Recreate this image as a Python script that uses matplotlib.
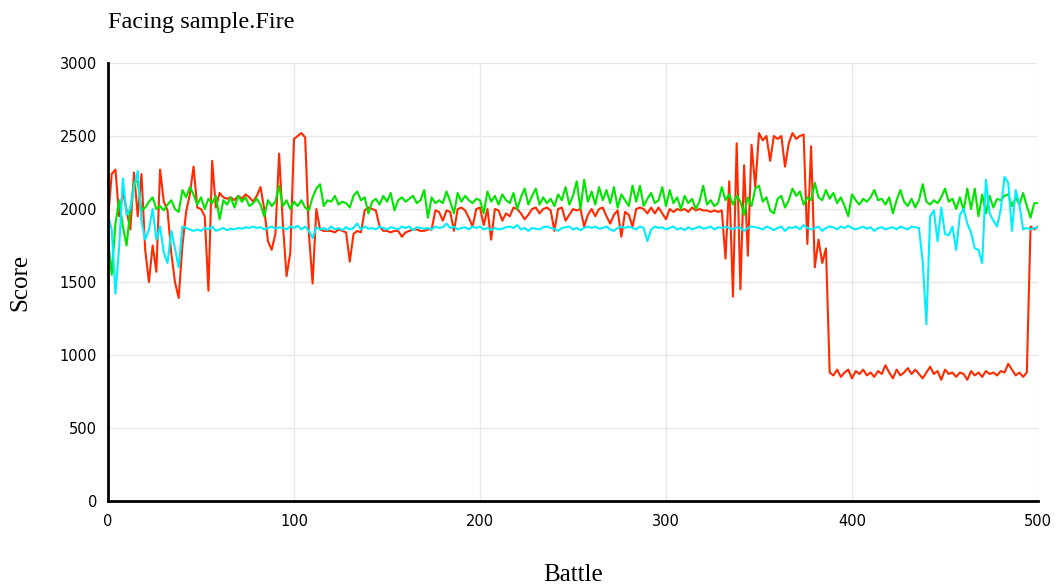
import numpy as np
import matplotlib
matplotlib.use("Agg")
import matplotlib.pyplot as plt

battles = np.arange(0, 501, 2)

red_scores = [
    1930, 2240, 2270, 1950, 2120, 1990, 1860, 2250, 1950, 2240,
    1720, 1500, 1750, 1570, 2270, 2050, 1990, 1700, 1500, 1390,
    1750, 1980, 2100, 2290, 2010, 2000, 1950, 1440, 2330, 2010,
    2110, 2080, 2070, 2080, 2060, 2090, 2070, 2100, 2080, 2050,
    2090, 2150, 2000, 1780, 1720, 1830, 2380, 1900, 1540, 1700,
    2480, 2500, 2520, 2490, 1830, 1490, 2000, 1860, 1850, 1850,
    1850, 1840, 1860, 1850, 1840, 1640, 1830, 1850, 1840, 1990,
    2010, 2000, 1990, 1880, 1850, 1850, 1840, 1850, 1850, 1810,
    1840, 1850, 1860, 1860, 1850, 1850, 1860, 1860, 1990, 1980,
    1920, 1990, 1980, 1850, 2000, 2010, 1990, 1940, 1880, 2000,
    2010, 1890, 2000, 1790, 2000, 1990, 1920, 1970, 1950, 2010,
    2000, 1970, 1930, 1960, 2000, 2010, 1970, 2000, 2010, 1990,
    1850, 2000, 2010, 1920, 1960, 2000, 1990, 2000, 1880, 1960,
    2000, 1950, 2000, 2010, 1950, 1900, 1960, 1990, 1810, 1980,
    1960, 1880, 2000, 2010, 2000, 1970, 2010, 1970, 2010, 1970,
    1930, 2000, 1980, 2000, 1990, 2000, 1980, 2010, 1990, 2000,
    1990, 1990, 1980, 1990, 1980, 1990, 1660, 2190, 1400, 2450,
    1450, 2300, 1680, 2440, 2150, 2520, 2470, 2500, 2330, 2500,
    2480, 2500, 2290, 2450, 2520, 2480, 2500, 2510, 1760, 2430,
    1600, 1790, 1630, 1730, 880, 860, 900, 850, 880, 900,
    840, 890, 870, 900, 860, 880, 850, 890, 870, 930,
    880, 840, 900, 860, 880, 910, 870, 900, 870, 840,
    880, 920, 870, 890, 830, 900, 870, 880, 850, 880,
    870, 830, 890, 860, 880, 850, 890, 870, 880, 860,
    890, 880, 940, 900, 860, 880, 850, 880, 1880, 1860,
    1880,
]

green_scores = [
    1790, 1550, 1900, 2060, 1880, 1750, 2000, 2180, 2190, 1990,
    2010, 2050, 2080, 2000, 2020, 1990, 2030, 2060, 2000, 1980,
    2130, 2080, 2150, 2100, 2030, 2080, 2000, 2070, 2040, 2090,
    1930, 2060, 2030, 2080, 2010, 2090, 2050, 2080, 2020, 2040,
    2070, 2030, 1950, 2060, 2020, 2050, 2160, 2020, 2060, 2000,
    2050, 2020, 2060, 2010, 1990, 2080, 2140, 2170, 2020, 2060,
    2050, 2090, 2030, 2050, 2040, 2010, 2090, 2120, 2060, 2080,
    1970, 2050, 2070, 2030, 2090, 2050, 2110, 1990, 2060, 2080,
    2050, 2070, 2090, 2040, 2060, 2130, 1940, 2080, 2040, 2060,
    2040, 2120, 2050, 1970, 2110, 2050, 2090, 2060, 2040, 2070,
    2060, 1970, 2120, 2050, 2090, 2030, 2100, 2060, 2040, 2110,
    2000, 2080, 2140, 2030, 2090, 2140, 2030, 2080, 2040, 2070,
    2020, 2100, 2060, 2150, 2030, 2090, 2190, 2000, 2200, 2050,
    2120, 2030, 2150, 2060, 2130, 2040, 2150, 2010, 2100, 2060,
    2020, 2160, 2050, 2160, 2020, 2070, 2110, 2040, 2060, 2150,
    2020, 2130, 2040, 2080, 2000, 2090, 2040, 2070, 2000, 2050,
    2160, 2030, 2060, 2020, 2040, 2150, 2060, 2100, 2030, 2090,
    2050, 1960, 2080, 2020, 2140, 2160, 2050, 2080, 1990, 1970,
    2070, 2090, 2010, 2060, 2140, 2090, 2120, 2030, 2080, 2060,
    2180, 2080, 2060, 2130, 2070, 2110, 2040, 2080, 2020, 1950,
    2100, 2060, 2030, 2070, 2050, 2080, 2130, 2060, 2070, 2030,
    2080, 1970, 2060, 2130, 2050, 2020, 2070, 2010, 2060, 2170,
    2050, 2030, 2060, 2040, 2080, 2140, 2050, 2070, 2000, 2080,
    1990, 2140, 2000, 2140, 1950, 2100, 1970, 2090, 2010, 2070,
    2060, 2090, 2100, 2020, 2080, 2030, 2110, 2020, 1940, 2040,
    2040,
]

cyan_scores = [
    1950, 1860, 1420, 1740, 2210, 1960, 2000, 2150, 2260, 1920,
    1790, 1860, 2000, 1790, 1880, 1700, 1630, 1850, 1730, 1600,
    1880, 1870, 1860, 1850, 1860, 1850, 1870, 1860, 1880, 1850,
    1860, 1870, 1855, 1865, 1860, 1870, 1865, 1875, 1870, 1880,
    1870, 1875, 1860, 1870, 1880, 1865, 1875, 1870, 1860, 1880,
    1870, 1885, 1860, 1880, 1850, 1800, 1875, 1860, 1870, 1855,
    1880, 1860, 1870, 1855, 1875, 1860, 1870, 1900, 1860, 1880,
    1865, 1870, 1860, 1880, 1870, 1860, 1875, 1870, 1860, 1880,
    1870, 1880, 1855, 1875, 1870, 1865, 1870, 1860, 1880, 1870,
    1875, 1900, 1870, 1880, 1860, 1870, 1875, 1860, 1880, 1870,
    1880, 1860, 1870, 1855, 1870, 1860, 1865, 1875, 1880, 1870,
    1890, 1860, 1870, 1850, 1870, 1865, 1860, 1875, 1880, 1870,
    1865, 1850, 1870, 1875, 1880, 1860, 1870, 1855, 1870, 1880,
    1870, 1880, 1865, 1870, 1880, 1860, 1850, 1870, 1880, 1870,
    1880, 1870, 1860, 1880, 1870, 1780, 1860, 1880, 1870, 1875,
    1860, 1870, 1880, 1860, 1870, 1855, 1875, 1860, 1870, 1880,
    1865, 1870, 1880, 1860, 1875, 1870, 1880, 1870, 1860, 1875,
    1870, 1850, 1870, 1880, 1875, 1870, 1860, 1880, 1870, 1855,
    1870, 1880, 1850, 1875, 1870, 1880, 1860, 1890, 1870, 1860,
    1870, 1880, 1850, 1870, 1880, 1875, 1860, 1880, 1870, 1885,
    1870, 1860, 1870, 1880, 1865, 1875, 1850, 1870, 1875, 1860,
    1870, 1875, 1860, 1880, 1870, 1860, 1880, 1875, 1870, 1640,
    1210, 1950, 1990, 1780, 2010, 1830, 1820, 1880, 1720, 1960,
    2000, 1900, 1840, 1730, 1720, 1630, 2200, 1970, 1920, 1880,
    2000, 2220, 2180, 1850, 2130, 2030, 1860, 1870, 1860, 1870,
    1875,
]

x_ticks = [0, 100, 200, 300, 400, 500]
y_ticks = [0, 500, 1000, 1500, 2000, 2500, 3000]

fig = plt.figure(figsize=(10.58, 5.88), dpi=100)
ax = fig.add_axes([108 / 1058, 1 - 501 / 588, 930 / 1058, 438 / 588])

ax.plot(battles, red_scores, color="#ff2a00", lw=1.5, zorder=3)
ax.plot(battles, green_scores, color="#00e400", lw=1.5, zorder=3)
ax.plot(battles, cyan_scores, color="#00eeff", lw=1.5, zorder=3)

ax.set_xlim(0, 500)
ax.set_ylim(0, 3000)
ax.set_xticks(x_ticks)
ax.set_yticks(y_ticks)
ax.grid(True, color="#e8e8e8", lw=1.0, zorder=0)
ax.set_axisbelow(True)

for s in ["top", "right"]:
    ax.spines[s].set_visible(False)
for s in ["left", "bottom"]:
    ax.spines[s].set_linewidth(2.0)
    ax.spines[s].set_color("black")
    ax.spines[s].set_zorder(4)

ax.tick_params(axis="both", length=0, labelsize=10.5, colors="black")
ax.tick_params(axis="y", pad=8)
ax.tick_params(axis="x", pad=9)

serif = ["Liberation Serif", "DejaVu Serif"]
ax.set_title("Facing sample.Fire", loc="left", fontsize=17.5, family=serif, pad=25)
ax.set_xlabel("Battle", fontsize=18, family=serif)
ax.xaxis.set_label_coords(0.5, -0.169)
ax.xaxis.label.set_va("center")
ax.set_ylabel("Score", fontsize=18, family=serif)
ax.yaxis.set_label_coords(-0.0946, 0.498)
ax.yaxis.label.set_va("center")

fig.savefig("out.png", dpi=100)
